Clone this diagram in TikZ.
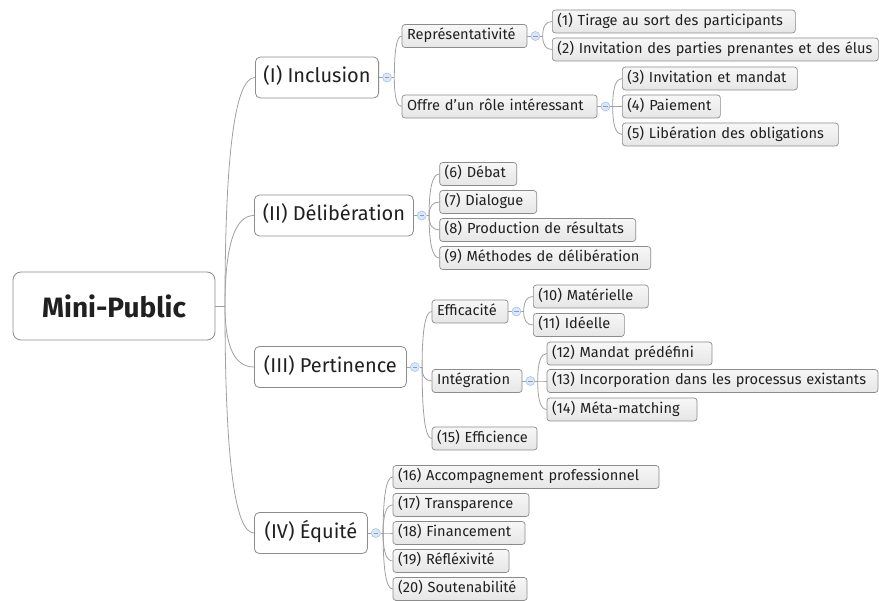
\documentclass[tikz,border=0pt]{standalone}
\usepackage{fontspec}
\setmainfont{Fira Sans}
\usetikzlibrary{calc}
\definecolor{linegray}{HTML}{A0A0A0}
\definecolor{boxgray}{HTML}{8C8C8C}
\definecolor{leaftop}{HTML}{F7F7F7}
\definecolor{leafbot}{HTML}{E6E6E6}
\definecolor{dotfill}{HTML}{DCE7F6}
\definecolor{dotdraw}{HTML}{A9C2E6}
\definecolor{dotminus}{HTML}{7FA0D0}
\definecolor{txt}{HTML}{202020}
\newcommand\mmbranch[2]{\draw[conn] (#1) .. controls ($(#1)!0.667!(#1|-#2.west)$) and ($(#2.west)!0.667!(#1|-#2.west)$) .. (#2.west);}
\begin{document}
\begin{tikzpicture}[x=1pt,y=-1pt,
  leaf/.style={draw=boxgray, line width=0.7pt, rounded corners=3pt, top color=leaftop, bottom color=leafbot,
    text=txt, font=\fontsize{14.6}{17}\selectfont, minimum height=23pt, inner xsep=5pt, inner ysep=0pt,
    text height=10.3pt, text depth=3pt, anchor=west, align=left,
    execute at begin node=\hbox\bgroup, execute at end node=\egroup},
  w/.style={text width=#1pt-10pt},
  mainbox/.style={draw=boxgray, line width=0.8pt, rounded corners=5pt, fill=white, text=txt,
    font=\fontsize{20}{24}\selectfont, minimum height=41pt, inner xsep=8pt, inner ysep=0pt,
    text height=14.5pt, text depth=4pt, anchor=west},
  rootbox/.style={draw=boxgray, line width=0.8pt, rounded corners=8pt, fill=white, text=txt,
    font=\fontsize{28}{32}\selectfont\bfseries, minimum width=202pt, minimum height=68pt},
  dot/.style={circle, draw=dotdraw, fill=dotfill, line width=0.6pt, minimum size=9pt, inner sep=0pt,
    path picture={\draw[dotminus, line width=0.7pt] ([xshift=-2.2pt]path picture bounding box.center) -- ([xshift=2.2pt]path picture bounding box.center);}},
  conn/.style={draw=linegray, line width=0.8pt}
]
\useasboundingbox (0,0) rectangle (879,601);
\fill[white] (0,0) rectangle (879,601);

% root and main topics
\node[rootbox] (root) at (114,306) {Mini-Public};
\node[mainbox, minimum width=121pt] (I) at (255,77.5) {(I) Inclusion};
\node[mainbox, minimum width=159pt] (II) at (254,215.5) {(II) Délibération};
\node[mainbox, minimum width=152pt] (III) at (254,367) {(III) Pertinence};
\node[mainbox, minimum width=113pt] (IV) at (254,533) {(IV) Équité};

% subtopics
\node[leaf, w=125] (rep) at (401.7,36) {Représentativité};
\node[leaf, w=195] (off) at (401.7,106.5) {Offre d'un rôle intéressant};
\node[leaf, w=243] (n1) at (552,21.5) {(1) Tirage au sort des participants};
\node[leaf, w=326] (n2) at (552,49.5) {(2) Invitation des parties prenantes et des élus};
\node[leaf, w=175] (n3) at (622,78.5) {(3) Invitation et mandat};
\node[leaf, w=98] (n4) at (622,106.5) {(4) Paiement};
\node[leaf, w=216] (n5) at (622,134.5) {(5) Libération des obligations};

\node[leaf, w=77] (n6) at (439.3,174) {(6) Débat};
\node[leaf, w=97] (n7) at (439.3,202) {(7) Dialogue};
\node[leaf, w=196] (n8) at (439.3,230) {(8) Production de résultats};
\node[leaf, w=211] (n9) at (439.3,258) {(9) Méthodes de délibération};

\node[leaf, w=76] (eff) at (431.7,311.5) {Efficacité};
\node[leaf, w=90] (integ) at (431.7,381) {Intégration};
\node[leaf, w=105] (n15) at (431.7,438.5) {(15) Efficience};
\node[leaf, w=115] (n10) at (533,296.5) {(10) Matérielle};
\node[leaf, w=91] (n11) at (533,325) {(11) Idéelle};
\node[leaf, w=165] (n12) at (546.7,353.5) {(12) Mandat prédéfini};
\node[leaf, w=331] (n13) at (546.7,381) {(13) Incorporation dans les processus existants};
\node[leaf, w=150] (n14) at (546.7,409.5) {(14) Méta-matching};

\node[leaf, w=266] (n16) at (392.7,477) {(16) Accompagnement professionnel};
\node[leaf, w=136] (n17) at (392.7,505) {(17) Transparence};
\node[leaf, w=132] (n18) at (392.7,533) {(18) Financement};
\node[leaf, w=116] (n19) at (392.7,561) {(19) Réfléxivité};
\node[leaf, w=134] (n20) at (392.7,589) {(20) Soutenabilité};

% collapse dots
\foreach \p in {I,II,III,IV,rep,off,eff,integ}{
  \node[dot] (d\p) at ([xshift=8pt]\p.east) {};
  \coordinate (b\p) at ([xshift=2.5pt]d\p.east);
}

% root connectors
\coordinate (broot) at (225,306);
\draw[conn] (root.east) -- (broot);
\foreach \c in {I,II,III,IV}{\mmbranch{broot}{\c}}

% parent to dot stubs
\foreach \p in {I,II,III,IV,rep,off,eff,integ}{
  \draw[conn] (\p.east) -- (d\p.west);
  \draw[conn] (d\p.east) -- (b\p);
}

\foreach \c in {rep,off}{\mmbranch{bI}{\c}}
\foreach \c in {n1,n2}{\mmbranch{brep}{\c}}
\foreach \c in {n3,n4,n5}{\mmbranch{boff}{\c}}
\foreach \c in {n6,n7,n8,n9}{\mmbranch{bII}{\c}}
\foreach \c in {eff,integ,n15}{\mmbranch{bIII}{\c}}
\foreach \c in {n10,n11}{\mmbranch{beff}{\c}}
\foreach \c in {n12,n13,n14}{\mmbranch{binteg}{\c}}
\foreach \c in {n16,n17,n18,n19,n20}{\mmbranch{bIV}{\c}}
\end{tikzpicture}
\end{document}
